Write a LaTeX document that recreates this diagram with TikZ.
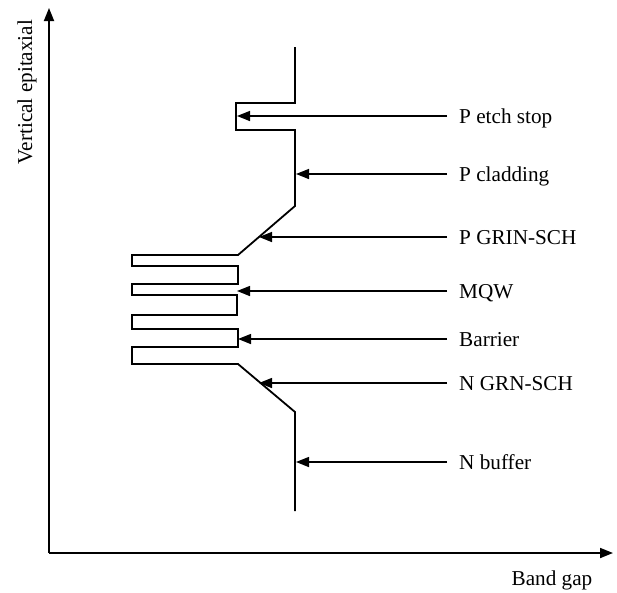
\documentclass[tikz,border=0pt]{standalone}
\usepackage{fontspec}
\setmainfont{Liberation Serif}
\usetikzlibrary{arrows.meta}
\begin{document}
\begin{tikzpicture}[x=1pt,y=-1pt,
  profile/.style={line width=1.8pt,line join=miter},
  axisline/.style={line width=1.8pt,-{Triangle[length=13pt,width=10pt]}},
  pointer/.style={line width=1.5pt,-{Triangle[length=13pt,width=10pt]}},
  lbl/.style={anchor=base west,inner sep=0pt,font=\fontsize{21.2}{25}\selectfont}]
\useasboundingbox (0,0) rectangle (617,592);

% axes
\coordinate (origin) at (49,553);
\coordinate (ytip) at (49,8);
\coordinate (xtip) at (613,553);
\draw[axisline] (origin) -- (ytip);
\draw[axisline] (origin) -- (xtip);
\node[lbl,anchor=base,rotate=90] (ylab) at (32,92) {Vertical epitaxial};
\node[lbl,anchor=base] (xlab) at (552,585) {Band gap};

% band-gap profile of the epitaxial stack
\draw[profile] (295,47) -- (295,103) -- (236,103) -- (236,130) -- (295,130)
  -- (295,206) -- (238,255) -- (132,255) -- (132,266) -- (238,266)
  -- (238,284) -- (132,284) -- (132,295) -- (237,295) -- (237,315)
  -- (132,315) -- (132,329) -- (238,329) -- (238,347) -- (132,347)
  -- (132,364) -- (238,364) -- (295,412) -- (295,511);

% layer pointers
\coordinate (t1) at (237,116);
\coordinate (t2) at (296,174);
\coordinate (t3) at (259,237);
\coordinate (t4) at (237,291);
\coordinate (t5) at (238,339);
\coordinate (t6) at (259,383);
\coordinate (t7) at (296,462);

\node[lbl] (l1) at (459,123) {P etch stop};
\node[lbl] (l2) at (459,181) {P cladding};
\node[lbl] (l3) at (459,244) {P GRIN-SCH};
\node[lbl] (l4) at (459,298) {MQW};
\node[lbl] (l5) at (459,346) {Barrier};
\node[lbl] (l6) at (459,390) {N GRN-SCH};
\node[lbl] (l7) at (459,469) {N buffer};

\foreach \i in {1,...,7}
  \draw[pointer] ([xshift=-12pt]l\i.west |- t\i) -- (t\i);
\end{tikzpicture}
\end{document}
